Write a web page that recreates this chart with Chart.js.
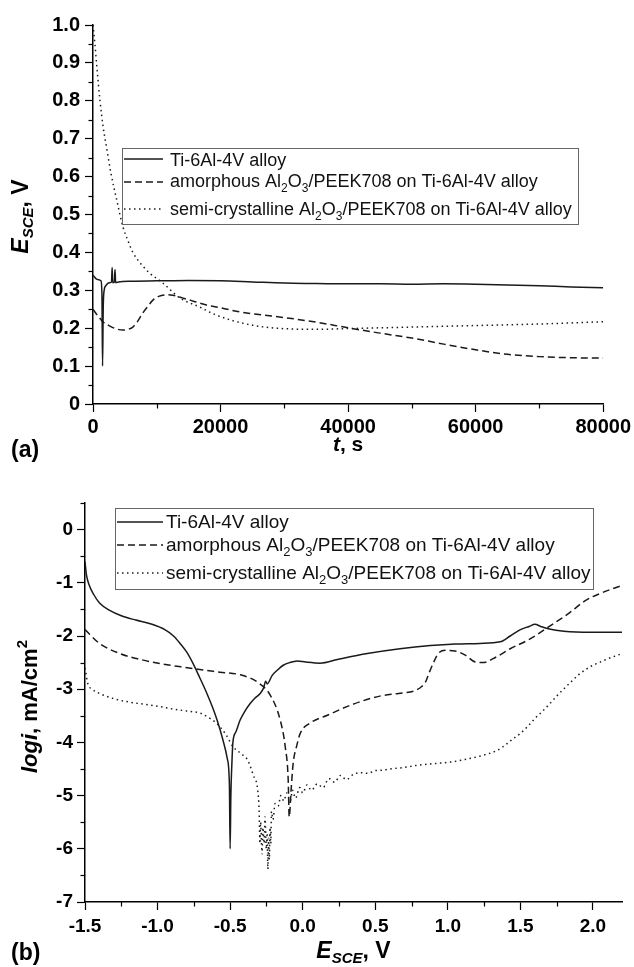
<!DOCTYPE html>
<html>
<head>
<meta charset="utf-8">
<script src="https://cdn.jsdelivr.net/npm/chart.js@4/dist/chart.umd.min.js"></script>
<style>
  html, body { margin: 0; padding: 0; background: #fff; }
  #wrap { position: relative; width: 634px; height: 967px; }
  #top { position: absolute; left: 0; top: 0; }
  #bottom { position: absolute; left: 0; top: 480px; }
</style>
</head>
<body>
<div id="wrap">
  <canvas id="top" width="634" height="480"></canvas>
  <canvas id="bottom" width="634" height="487"></canvas>
</div>
<script>
/* (a) open circuit potential vs time */
const tiTime = [0, 200, 500, 900, 1250, 1400, 1500, 1600, 1750, 2000, 2500, 2900, 3000, 3100, 3350, 3450, 3550, 4000, 6000, 10000, 15000, 20000, 25000, 30000, 35000, 40000, 45000, 50000, 55000, 60000, 65000, 70000, 75000, 80000]
const tiPotential = [0.34, 0.336, 0.33, 0.328, 0.325, 0.29, 0.10, 0.25, 0.30, 0.312, 0.32, 0.322, 0.36, 0.32, 0.322, 0.355, 0.32, 0.322, 0.324, 0.325, 0.326, 0.325, 0.322, 0.319, 0.318, 0.317, 0.317, 0.316, 0.317, 0.316, 0.314, 0.312, 0.309, 0.307]

const amorTime = [0, 500, 1000, 1600, 2500, 3500, 4700, 5500, 6250, 7000, 7800, 8600, 9400, 10300, 11500, 12500, 14000, 16000, 17800, 20000, 23000, 26000, 30000, 35000, 40000, 45000, 50000, 55000, 60000, 65000, 70000, 75000, 80000]
const amorPotential = [0.25, 0.238, 0.228, 0.216, 0.207, 0.199, 0.195, 0.197, 0.203, 0.218, 0.24, 0.258, 0.274, 0.284, 0.288, 0.287, 0.28, 0.27, 0.261, 0.254, 0.243, 0.236, 0.228, 0.216, 0.201, 0.187, 0.174, 0.158, 0.143, 0.131, 0.125, 0.122, 0.121]

const semiTime = [0, 300, 600, 1100, 1600, 2200, 2800, 3700, 4700, 5500, 6250, 7500, 8900, 10900, 13600, 16700, 19000, 21900, 25000, 28000, 31000, 35000, 40000, 45000, 50000, 55000, 60000, 65000, 70000, 75000, 80000]
const semiPotential = [1.0, 0.95, 0.89, 0.80, 0.73, 0.67, 0.61, 0.54, 0.467, 0.43, 0.40, 0.37, 0.345, 0.32, 0.28, 0.256, 0.237, 0.22, 0.208, 0.201, 0.198, 0.197, 0.199, 0.201, 0.203, 0.205, 0.207, 0.209, 0.211, 0.214, 0.217]

const timeTicks = [0, 20000, 40000, 60000, 80000]
const timeTickLabels = ['0', '20000', '40000', '60000', '80000']
const potentialTicks = [0, 0.1, 0.2, 0.3, 0.4, 0.5, 0.6, 0.7, 0.8, 0.9, 1.0]
const potentialTickLabels = ['0', '0.1', '0.2', '0.3', '0.4', '0.5', '0.6', '0.7', '0.8', '0.9', '1.0']

/* (b) polarisation curves */
const tiE = [-1.5, -1.49, -1.47, -1.44, -1.40, -1.33, -1.25, -1.15, -1.05, -0.95, -0.89, -0.845, -0.80, -0.755, -0.71, -0.66, -0.62, -0.59, -0.55, -0.52, -0.505, -0.5, -0.495, -0.488, -0.481, -0.46, -0.431, -0.40, -0.362, -0.33, -0.293, -0.27, -0.255, -0.245, -0.21, -0.17, -0.134, -0.09, -0.038, 0.02, 0.12, 0.24, 0.445, 0.67, 0.88, 1.05, 1.22, 1.36, 1.43, 1.5, 1.56, 1.6, 1.64, 1.7, 1.8, 1.98, 2.2]
const tiLogI = [-0.6, -0.85, -1.05, -1.22, -1.38, -1.52, -1.62, -1.7, -1.77, -1.88, -2.0, -2.14, -2.3, -2.52, -2.78, -3.08, -3.35, -3.58, -3.95, -4.3, -4.8, -6.0, -5.0, -4.4, -4.0, -3.8, -3.58, -3.42, -3.27, -3.17, -3.08, -2.98, -2.85, -2.9, -2.74, -2.63, -2.55, -2.5, -2.47, -2.49, -2.51, -2.44, -2.33, -2.24, -2.18, -2.15, -2.14, -2.11, -2.0, -1.88, -1.82, -1.78, -1.82, -1.87, -1.91, -1.93, -1.93]

const amorE = [-1.5, -1.4, -1.26, -1.12, -0.98, -0.84, -0.71, -0.57, -0.43, -0.31, -0.224, -0.155, -0.12, -0.1, -0.093, -0.08, -0.066, -0.04, -0.017, 0.05, 0.17, 0.33, 0.53, 0.66, 0.77, 0.82, 0.845, 0.87, 0.893, 0.934, 0.983, 1.05, 1.12, 1.19, 1.24, 1.33, 1.43, 1.57, 1.71, 1.84, 1.95, 2.05, 2.2]
const amorLogI = [-1.88, -2.14, -2.33, -2.44, -2.52, -2.58, -2.63, -2.68, -2.73, -2.87, -3.11, -3.58, -4.09, -4.7, -5.4, -4.9, -4.4, -4.05, -3.83, -3.64, -3.49, -3.3, -3.13, -3.08, -3.03, -2.95, -2.87, -2.7, -2.55, -2.33, -2.27, -2.28, -2.36, -2.49, -2.5, -2.4, -2.24, -2.05, -1.8, -1.56, -1.33, -1.2, -1.05]

const semiE = [-1.5, -1.48, -1.45, -1.4, -1.3, -1.2, -1.1, -1.0, -0.9, -0.8, -0.707, -0.65, -0.59, -0.53, -0.48, -0.43, -0.38, -0.34, -0.31, -0.30, -0.295, -0.29, -0.28, -0.275, -0.265, -0.26, -0.25, -0.245, -0.24, -0.235, -0.23, -0.225, -0.22, -0.215, -0.205, -0.19, -0.17, -0.15, -0.13, -0.11, -0.086, -0.07, -0.05, -0.02, 0.0, 0.03, 0.06, 0.1, 0.14, 0.18, 0.22, 0.26, 0.3, 0.35, 0.4, 0.45, 0.5, 0.555, 0.6, 0.7, 0.79, 0.9, 1.017, 1.1, 1.245, 1.34, 1.41, 1.45, 1.5, 1.55, 1.6, 1.65, 1.7, 1.75, 1.8, 1.85, 1.9, 1.95, 2.0, 2.05, 2.1, 2.15, 2.2]
const semiLogI = [-2.6, -2.9, -3.0, -3.08, -3.18, -3.24, -3.28, -3.32, -3.37, -3.41, -3.45, -3.53, -3.65, -3.85, -4.08, -4.2, -4.33, -4.62, -4.9, -5.3, -5.9, -5.5, -6.1, -5.6, -5.9, -5.4, -6.0, -5.7, -6.38, -5.8, -6.2, -5.6, -5.9, -5.3, -5.45, -5.15, -5.2, -5.0, -5.1, -4.95, -5.1, -4.9, -5.05, -4.85, -4.95, -4.8, -4.9, -4.78, -4.85, -4.68, -4.75, -4.62, -4.7, -4.6, -4.57, -4.58, -4.53, -4.52, -4.5, -4.47, -4.43, -4.4, -4.37, -4.33, -4.24, -4.15, -4.02, -3.93, -3.83, -3.7, -3.55, -3.42, -3.28, -3.13, -2.99, -2.86, -2.73, -2.63, -2.55, -2.49, -2.43, -2.38, -2.33]

const eTicks = [-1.5, -1.0, -0.5, 0.0, 0.5, 1.0, 1.5, 2.0]
const eTickLabels = ['-1.5', '-1.0', '-0.5', '0.0', '0.5', '1.0', '1.5', '2.0']
const logITicks = [-7, -6, -5, -4, -3, -2, -1, 0]
const logITickLabels = ['-7', '-6', '-5', '-4', '-3', '-2', '-1', '0']

/* legend texts, [text, subscript?] pieces */
const legendTi = [['Ti-6Al-4V alloy', false]]
const legendAmor = [['amorphous Al', false], ['2', true], ['O', false], ['3', true], ['/PEEK708 on Ti-6Al-4V alloy', false]]
const legendSemi = [['semi-crystalline Al', false], ['2', true], ['O', false], ['3', true], ['/PEEK708 on Ti-6Al-4V alloy', false]]

const FONT = "'Liberation Sans', Arial, sans-serif"
const INK = '#1a1a1a'
const SOLID = []
const DASHED = [7, 4]
const DOTTED = [1.5, 3.5]

function toPoints(xs, ys) {
  return xs.map((x, i) => ({ x: x, y: ys[i] }))
}

function series(xs, ys, dash) {
  return {
    data: toPoints(xs, ys),
    borderColor: INK,
    borderWidth: 1.5,
    borderDash: dash,
    pointRadius: 0,
    fill: false,
    cubicInterpolationMode: 'monotone'
  }
}

// draws text pieces one after another, optionally turned to read bottom-up
function drawRich(ctx, pieces, cx, cy, rotated) {
  ctx.save()
  let total = 0
  for (const p of pieces) {
    ctx.font = p.f
    total += ctx.measureText(p.t).width
  }
  ctx.translate(cx, cy)
  if (rotated) ctx.rotate(-Math.PI / 2)
  ctx.fillStyle = '#000'
  ctx.textBaseline = 'alphabetic'
  let x = -total / 2
  for (const p of pieces) {
    ctx.font = p.f
    ctx.fillText(p.t, x, p.dy || 0)
    x += ctx.measureText(p.t).width
  }
  ctx.restore()
}

function drawLegend(ctx, box, rows, size) {
  ctx.save()
  ctx.strokeStyle = '#666'
  ctx.lineWidth = 1
  ctx.strokeRect(box.x + 0.5, box.y + 0.5, box.w, box.h)
  for (const row of rows) {
    ctx.strokeStyle = INK
    ctx.lineWidth = 1.5
    ctx.setLineDash(row.dash)
    ctx.beginPath()
    ctx.moveTo(box.x + box.sample[0], box.y + row.lineY)
    ctx.lineTo(box.x + box.sample[1], box.y + row.lineY)
    ctx.stroke()
    ctx.setLineDash([])
    ctx.fillStyle = '#111'
    ctx.textBaseline = 'alphabetic'
    let x = box.x + box.textX
    for (const [t, sub] of row.label) {
      ctx.font = (sub ? Math.round(size * 0.68) : size) + 'px ' + FONT
      ctx.fillText(t, x, box.y + row.textY + (sub ? 5 : 0))
      x += ctx.measureText(t).width
    }
  }
  ctx.restore()
}

// short unlabelled ticks halfway between the labelled ones
const minorTicks = {
  id: 'minorTicks',
  afterDraw(chart) {
    const ctx = chart.ctx
    ctx.save()
    ctx.strokeStyle = '#000'
    ctx.lineWidth = 1.2
    for (const id of ['x', 'y']) {
      const s = chart.scales[id]
      const vals = s.ticks.map(t => t.value)
      const mids = []
      for (let i = 0; i < vals.length - 1; i++) mids.push((vals[i] + vals[i + 1]) / 2)
      const step = vals[1] - vals[0]
      const extra = vals[vals.length - 1] + step / 2
      if (extra <= s.max + 1e-9) mids.push(extra)
      for (const v of mids) {
        const p = Math.round(s.getPixelForValue(v)) + 0.5
        ctx.beginPath()
        if (id === 'x') {
          ctx.moveTo(p, chart.chartArea.bottom)
          ctx.lineTo(p, chart.chartArea.bottom + 4.5)
        } else {
          ctx.moveTo(chart.chartArea.left, p)
          ctx.lineTo(chart.chartArea.left - 4.5, p)
        }
        ctx.stroke()
      }
    }
    ctx.restore()
  }
}

function axis(min, max, tickValues, tickLabels, fitKey, fitSize, pad, size) {
  return {
    type: 'linear',
    min: min,
    max: max,
    afterBuildTicks: s => { s.ticks = tickValues.map(v => ({ value: v })) },
    afterFit: s => { s[fitKey] = fitSize },
    border: { display: true, color: '#000', width: 1.5 },
    grid: { display: true, drawOnChartArea: false, drawTicks: true, tickLength: 8, tickColor: '#000', tickWidth: 1.2 },
    ticks: {
      color: '#000',
      autoSkip: false,
      maxRotation: 0,
      padding: pad,
      font: { family: FONT, size: size, weight: 'bold' },
      callback: (v, i) => tickLabels[i]
    }
  }
}

/* CHART (a) */
const topDecor = {
  id: 'topDecor',
  afterDraw(chart) {
    const ctx = chart.ctx
    const ca = chart.chartArea
    drawLegend(ctx, { x: ca.left + 29, y: ca.top + 123, w: 456, h: 76, sample: [2, 41], textX: 48 }, [
      { label: legendTi, dash: SOLID, lineY: 11, textY: 18 },
      { label: legendAmor, dash: DASHED, lineY: 34, textY: 39 },
      { label: legendSemi, dash: DOTTED, lineY: 61, textY: 67 }
    ], 18)
    drawRich(ctx, [
      { t: 'E', f: 'italic bold 23px ' + FONT },
      { t: 'SCE', f: 'italic bold 15px ' + FONT, dy: 5 },
      { t: ', V', f: 'bold 23px ' + FONT }
    ], 28, (ca.top + ca.bottom) / 2 + 2, true)
    drawRich(ctx, [
      { t: 't', f: 'italic bold 21px ' + FONT },
      { t: ', s', f: 'bold 21px ' + FONT }
    ], (ca.left + ca.right) / 2, ca.bottom + 47, false)
    ctx.save()
    ctx.font = 'bold 23px ' + FONT
    ctx.fillStyle = '#000'
    ctx.fillText('(a)', 11, ca.bottom + 53)
    ctx.restore()
  }
}

new Chart(document.getElementById('top'), {
  type: 'line',
  data: {
    datasets: [
      series(tiTime, tiPotential, SOLID),
      series(amorTime, amorPotential, DASHED),
      series(semiTime, semiPotential, DOTTED)
    ]
  },
  options: {
    responsive: false,
    animation: false,
    layout: { padding: { top: 25, right: 29, left: 0, bottom: 0 } },
    plugins: { legend: { display: false }, tooltip: { enabled: false } },
    scales: {
      x: axis(0, 80000, timeTicks, timeTickLabels, 'height', 76, 3, 20),
      y: axis(0, 1.0, potentialTicks, potentialTickLabels, 'width', 93, 5, 20)
    }
  },
  plugins: [minorTicks, topDecor]
})

/* CHART (b) */
const bottomDecor = {
  id: 'bottomDecor',
  afterDraw(chart) {
    const ctx = chart.ctx
    const ca = chart.chartArea
    drawLegend(ctx, { x: ca.left + 30, y: ca.top + 5, w: 478, h: 81, sample: [2, 48], textX: 51 }, [
      { label: legendTi, dash: SOLID, lineY: 14, textY: 20 },
      { label: legendAmor, dash: DASHED, lineY: 37, textY: 43 },
      { label: legendSemi, dash: DOTTED, lineY: 65, textY: 71 }
    ], 19)
    drawRich(ctx, [
      { t: 'logi', f: 'italic bold 22px ' + FONT },
      { t: ', mA/cm', f: 'bold 22px ' + FONT },
      { t: '2', f: 'bold 15px ' + FONT, dy: -10 }
    ], 37, (ca.top + ca.bottom) / 2 + 4, true)
    drawRich(ctx, [
      { t: 'E', f: 'italic bold 23px ' + FONT },
      { t: 'SCE', f: 'italic bold 15px ' + FONT, dy: 5 },
      { t: ', V', f: 'bold 23px ' + FONT }
    ], (ca.left + ca.right) / 2, ca.bottom + 56, false)
    ctx.save()
    ctx.font = 'bold 23px ' + FONT
    ctx.fillStyle = '#000'
    ctx.fillText('(b)', 11, ca.bottom + 58)
    ctx.restore()
  }
}

new Chart(document.getElementById('bottom'), {
  type: 'line',
  data: {
    datasets: [
      series(tiE, tiLogI, SOLID),
      series(amorE, amorLogI, DASHED),
      series(semiE, semiLogI, DOTTED)
    ]
  },
  options: {
    responsive: false,
    animation: false,
    layout: { padding: { top: 23, right: 12, left: 0, bottom: 0 } },
    plugins: { legend: { display: false }, tooltip: { enabled: false } },
    scales: {
      x: axis(-1.5, 2.2, eTicks, eTickLabels, 'height', 65, 5, 19),
      y: axis(-7, 0.5, logITicks, logITickLabels, 'width', 85, 4, 19)
    }
  },
  plugins: [minorTicks, bottomDecor]
})
</script>
</body>
</html>
